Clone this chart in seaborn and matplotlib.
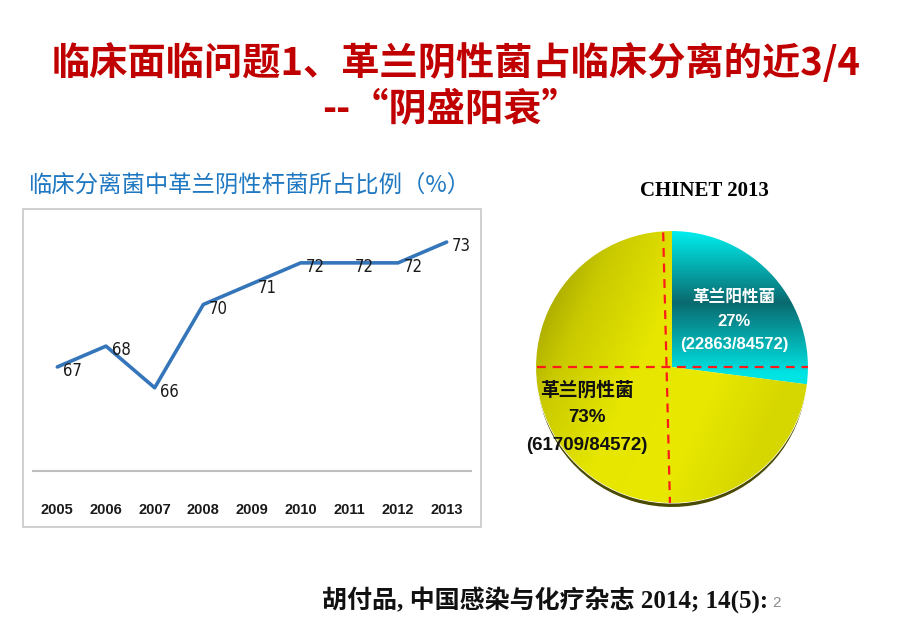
import numpy as np
import pandas as pd
import matplotlib
matplotlib.use("Agg")
import matplotlib.pyplot as plt
import matplotlib.patches as mpatches
from matplotlib.colors import LinearSegmentedColormap
import seaborn as sns

# data
years = ['2005', '2006', '2007', '2008', '2009', '2010', '2011', '2012', '2013']
gn_pct = [67, 68, 66, 70, 71, 72, 72, 72, 73]
pie_names = ['革兰阳性菌', '革兰阴性菌']
pie_counts = [22863, 61709]
pie_total = 84572

title1 = '临床面临问题1、革兰阴性菌占临床分离的近3/4'
title2 = '--“阴盛阳衰”'
subtitle = '临床分离菌中革兰阴性杆菌所占比例（%）'
pie_title = 'CHINET 2013'
source = '胡付品, 中国感染与化疗杂志 2014; 14(5):'
page_no = '2'

sns.set_theme(style='white')
plt.rcParams['font.family'] = ['Liberation Sans', 'Noto Sans CJK SC', 'DejaVu Sans']

W, H = 920, 637
fig = plt.figure(figsize=(W / 100, H / 100), dpi=100)
fig.patch.set_facecolor('white')


def fx(x):
    return x / W


def fy(y):
    return 1 - y / H


# titles
cjk = ['Noto Sans CJK SC', 'DejaVu Sans']
fig.text(fx(456), fy(63), title1, ha='center', va='center', color='#C00000',
         fontsize=27.5, fontweight='bold', family=cjk)
fig.text(fx(451), fy(110), title2, ha='center', va='center', color='#C00000',
         fontsize=27.5, fontweight='bold', family=cjk)
fig.text(fx(28), fy(185), subtitle, ha='left', va='center', color='#1F78C1',
         fontsize=16.8, family=cjk)

# line chart frame
fig.patches.append(mpatches.Rectangle((fx(23), fy(527)), fx(481) - fx(23), fy(209) - fy(527),
                                      transform=fig.transFigure, fill=False,
                                      edgecolor='#C8C8C8', lw=1.2))

ax = fig.add_axes([fx(33), fy(471), fx(471) - fx(33), fy(215) - fy(471)])
df = pd.DataFrame({'year': years, 'pct': gn_pct})
sns.lineplot(data=df, x='year', y='pct', ax=ax, color='#3575B9', lw=2.6, sort=False)
ax.set_xlim(-0.5, len(years) - 0.5)
ax.set_ylim(62, 74.3)
for i, v in enumerate(gn_pct):
    ax.annotate(str(v), (i, v), xytext=(4, -3), textcoords='offset points',
                ha='left', va='center', fontsize=12, color='#1A1A1A',
                family=['DejaVu Sans'], fontstretch='condensed')
for s in ['top', 'right', 'left']:
    ax.spines[s].set_visible(False)
ax.spines['bottom'].set_color('#BFBFBF')
ax.spines['bottom'].set_linewidth(1.5)
ax.set_yticks([])
ax.set_xlabel('')
ax.set_ylabel('')
ax.tick_params(axis='x', length=0, pad=23)
for lab in ax.get_xticklabels():
    lab.set_fontsize(10.5)
    lab.set_fontweight('bold')
    lab.set_color('#1A1A1A')
    lab.set_fontstretch('condensed')
ax.set_facecolor('none')

# pie chart
cx, cy, r = 672, 367, 136
pa = fig.add_axes([fx(cx - 140), fy(cy + 140), fx(280), 280 / H])
pa.axis('off')

# shadow underneath
pa.pie(pie_counts, startangle=90, counterclock=False, center=(0.0, -0.035),
       colors=['#4A4A00', '#4A4A00'], radius=1.0)
wedges, _ = pa.pie(pie_counts, startangle=90, counterclock=False,
                   colors=['#00D8D8', '#E6E600'], radius=1.0)

# shading for a glossy look
yy, xx = np.mgrid[1:-1:300j, -1:1:300j]
cyan_map = LinearSegmentedColormap.from_list('c', ['#00EDED', '#0A6A6F', '#00E4E4'])
cyan_val = np.clip((1 - yy) / 1.05, 0, 1)
im1 = pa.imshow(cyan_val, extent=[-1, 1, -1, 1], cmap=cyan_map, vmin=0, vmax=1, zorder=3)
im1.set_clip_path(wedges[0])
yel_map = LinearSegmentedColormap.from_list('y', ['#8E8E00', '#C9C900', '#E6E600', '#E8E800', '#D6D600'])
yel_val = np.clip((xx - 0.45 * yy + 1.45) / 2.4, 0, 1)
im2 = pa.imshow(yel_val, extent=[-1, 1, -1, 1], cmap=yel_map, vmin=0, vmax=1, zorder=3)
im2.set_clip_path(wedges[1])

# red dashed cross
pa.plot([-0.065, -0.015], [0.99, -1.0], color='#FF1A1A', ls=(0, (4, 3)), lw=1.6, zorder=5)
pa.plot([-0.99, 1.0], [0.0, 0.0], color='#FF1A1A', ls=(0, (4, 3)), lw=1.6, zorder=5)
pa.set_xlim(-1.03, 1.03)
pa.set_ylim(-1.03, 1.03)
pa.set_aspect('equal')

fig.text(fx(704), fy(191), pie_title, ha='center', va='center', fontsize=15,
         fontweight='bold', family=['Liberation Serif', 'DejaVu Serif'], color='black')

lab_font = ['Liberation Sans', 'Noto Sans CJK SC', 'DejaVu Sans']
pos_lines = [pie_names[0], f'{round(100 * pie_counts[0] / pie_total)}%',
             f'({pie_counts[0]}/{pie_total})']
neg_lines = [pie_names[1], f'{round(100 * pie_counts[1] / pie_total)}%',
             f'({pie_counts[1]}/{pie_total})']
for t, y in zip(pos_lines, [297, 321, 345]):
    fig.text(fx(734), fy(y), t, ha='center', va='center', fontsize=12,
             fontweight='bold', color='white', family=lab_font)
for t, y in zip(neg_lines, [390, 418, 446]):
    fig.text(fx(587), fy(y), t, ha='center', va='center', fontsize=13.5,
             fontweight='bold', color='#111111', family=lab_font)

# source
fig.text(fx(322), fy(600), source, ha='left', va='center', fontsize=18,
         fontweight='bold', color='#111111',
         family=['Liberation Serif', 'Noto Sans CJK SC', 'DejaVu Serif'])
fig.text(fx(777), fy(603), page_no, ha='center', va='center', fontsize=11,
         color='#8C8C8C', family=['Liberation Sans'])

fig.savefig('out.png', dpi=100, facecolor='white')
